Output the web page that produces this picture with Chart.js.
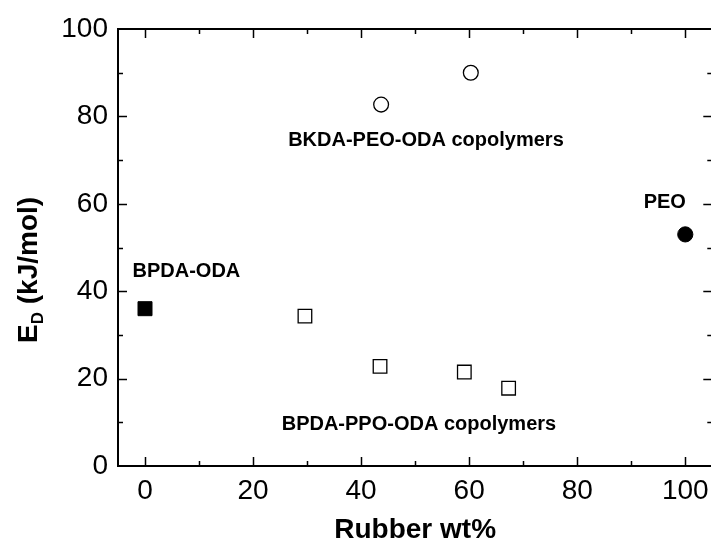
<!DOCTYPE html>
<html>
<head>
<meta charset="utf-8">
<script src="https://cdn.jsdelivr.net/npm/chart.js@4.4.1/dist/chart.umd.min.js"></script>
<style>
  html, body { margin: 0; padding: 0; background: #fff; overflow: hidden; }
  canvas { display: block; }
</style>
</head>
<body>
<canvas id="energyChart" width="714" height="549"></canvas>
<script>
// activation energy vs rubber content
const bpdaOdaX = [0];
const bpdaOdaY = [36];
const ppoX = [29.6, 43.5, 59.1, 67.3];
const ppoY = [34.3, 22.8, 21.5, 17.8];
const peoCopolyX = [43.7, 60.3];
const peoCopolyY = [82.7, 90.0];
const peoX = [100];
const peoY = [53];
const xTicks = [0, 20, 40, 60, 80, 100];
const yTicks = [0, 20, 40, 60, 80, 100];

const notes = [
  { text: 'BKDA-PEO-ODA copolymers', x: 52.0, y: 74.4 },
  { text: 'BPDA-PPO-ODA copolymers', x: 50.7, y: 9.4 },
  { text: 'BPDA-ODA', x: 7.66, y: 44.5 },
  { text: 'PEO', x: 96.2, y: 60.4 }
];

const pts = (xs, ys) => xs.map((x, i) => ({ x: x, y: ys[i] }));
const FONT = "'Liberation Sans', Arial, sans-serif";

// frame, inward ticks, notes and axis titles
const framePlugin = {
  id: 'frame',
  afterDraw(chart) {
    const ctx = chart.ctx;
    const a = chart.chartArea;
    const xs = chart.scales.x, ys = chart.scales.y;
    ctx.save();
    ctx.strokeStyle = '#000';
    ctx.lineWidth = 2;
    ctx.strokeRect(a.left, a.top, a.right - a.left, a.bottom - a.top);
    ctx.lineWidth = 1.5;
    ctx.beginPath();
    for (let v = 0; v <= 100; v += 10) {
      const len = v % 20 === 0 ? 9 : 5;
      const px = Math.round(xs.getPixelForValue(v)) + 0.5;
      ctx.moveTo(px, a.bottom); ctx.lineTo(px, a.bottom - len);
      ctx.moveTo(px, a.top); ctx.lineTo(px, a.top + len);
      if (v > 0 && v < 100) {
        const py = Math.round(ys.getPixelForValue(v)) + 0.5;
        ctx.moveTo(a.left, py); ctx.lineTo(a.left + len, py);
        ctx.moveTo(a.right, py); ctx.lineTo(a.right - len, py);
      }
    }
    ctx.stroke();

    ctx.fillStyle = '#000';
    ctx.font = 'bold 20px ' + FONT;
    ctx.textAlign = 'center';
    ctx.textBaseline = 'middle';
    notes.forEach(n => {
      ctx.fillText(n.text, xs.getPixelForValue(n.x), ys.getPixelForValue(n.y));
    });

    // x title
    ctx.font = 'bold 28px ' + FONT;
    ctx.fillText('Rubber wt%', (a.left + a.right) / 2, 530);

    // y title with subscript D
    ctx.translate(29, 343);
    ctx.rotate(-Math.PI / 2);
    ctx.textAlign = 'left';
    ctx.textBaseline = 'middle';
    ctx.font = 'bold 28px ' + FONT;
    ctx.fillText('E', 0, 0);
    let w = ctx.measureText('E').width;
    ctx.font = 'bold 17px ' + FONT;
    ctx.fillText('D', w, 9);
    w += ctx.measureText('D').width;
    ctx.font = 'bold 28px ' + FONT;
    ctx.fillText(' (kJ/mol)', w, 0);
    ctx.restore();
  }
};

new Chart(document.getElementById('energyChart'), {
  type: 'scatter',
  data: {
    datasets: [
      {
        label: 'BPDA-ODA',
        data: pts(bpdaOdaX, bpdaOdaY),
        pointStyle: 'rect',
        pointRadius: 9.9,
        backgroundColor: '#000',
        borderColor: '#000',
        borderWidth: 1
      },
      {
        label: 'BPDA-PPO-ODA copolymers',
        data: pts(ppoX, ppoY),
        pointStyle: 'rect',
        pointRadius: 9.6,
        backgroundColor: 'rgba(0,0,0,0)',
        borderColor: '#000',
        borderWidth: 1.3
      },
      {
        label: 'BKDA-PEO-ODA copolymers',
        data: pts(peoCopolyX, peoCopolyY),
        pointStyle: 'circle',
        pointRadius: 7.4,
        backgroundColor: 'rgba(0,0,0,0)',
        borderColor: '#000',
        borderWidth: 1.3
      },
      {
        label: 'PEO',
        data: pts(peoX, peoY),
        pointStyle: 'circle',
        pointRadius: 7.6,
        backgroundColor: '#000',
        borderColor: '#000',
        borderWidth: 1
      }
    ]
  },
  options: {
    responsive: false,
    animation: false,
    layout: { autoPadding: false, padding: { top: 29, right: 1.7, left: 0, bottom: 0 } },
    plugins: {
      legend: { display: false },
      tooltip: { enabled: false }
    },
    scales: {
      x: {
        type: 'linear',
        min: -5,
        max: 105,
        grid: { display: false, drawTicks: false },
        border: { display: false },
        afterBuildTicks: s => { s.ticks = xTicks.map(v => ({ value: v })); },
        afterFit: s => { s.height = 83; s.paddingLeft = 0; s.paddingRight = 0; },
        ticks: {
          color: '#000',
          padding: 8,
          maxRotation: 0,
          font: { family: FONT, size: 28 }
        }
      },
      y: {
        type: 'linear',
        min: 0,
        max: 100,
        grid: { display: false, drawTicks: false },
        border: { display: false },
        afterBuildTicks: s => { s.ticks = yTicks.map(v => ({ value: v })); },
        afterFit: s => { s.width = 118; s.paddingTop = 0; s.paddingBottom = 0; },
        ticks: {
          color: '#000',
          padding: 10,
          font: { family: FONT, size: 28 }
        }
      }
    }
  },
  plugins: [framePlugin]
});
</script>
</body>
</html>
